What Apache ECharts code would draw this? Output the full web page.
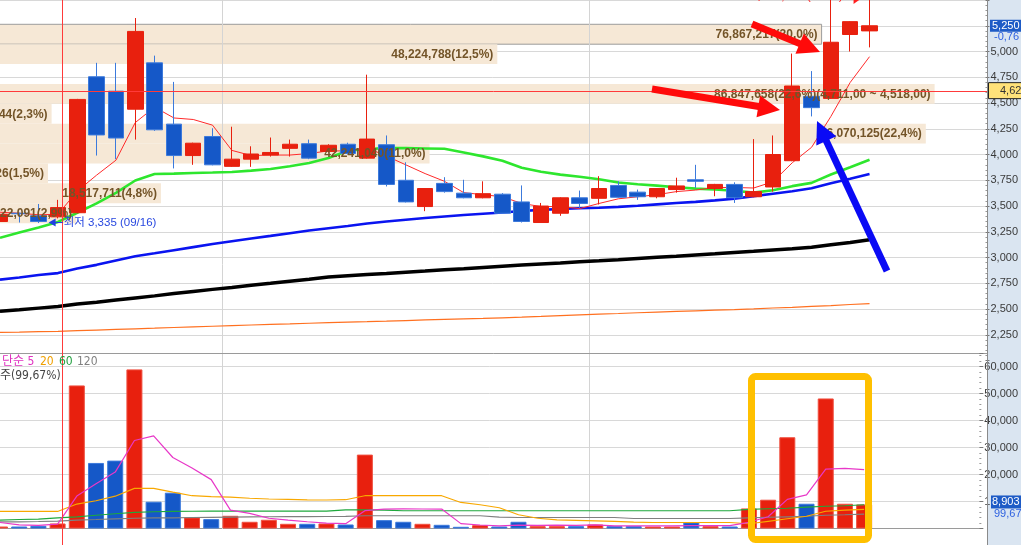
<!DOCTYPE html>
<html><head><meta charset="utf-8">
<script src="https://cdn.jsdelivr.net/npm/echarts@6/dist/echarts.min.js"></script>
<style>html,body{margin:0;padding:0;background:#fff;overflow:hidden}#c{width:1021px;height:545px}</style>
</head><body><div id="c"></div>
<script>
// ---------------- data ----------------
const dates = ['09/14','09/15','09/16','09/17','09/18','09/21','09/22','09/23','09/24','09/25','09/28','09/29',
 '10/05','10/06','10/07','10/08','10/12','10/13','10/14','10/15','10/16','10/19','10/20','10/21','10/22','10/23',
 '10/26','10/27','10/28','10/29','10/30','11/02','11/03','11/04','11/05','11/06','11/09','11/10','11/11','11/12',
 '11/13','11/16','11/17','11/18','11/19','11/20'];
const openP  = [3350,3430,3405,3395,3435,4755,4615,4440,4890,4295,3990,4175,3885,3955,3995,4060,4105,4030,4100,3965,4095,3750,3495,3720,3625,3580,3615,3540,3340,3430,3580,3575,3700,3635,3590,3660,3755,3670,3710,3590,3685,3940,4565,4545,5165,5200];
const highP  = [3430,3435,3520,3560,4540,4890,4890,5325,4960,4705,4115,4255,4270,4080,4165,4145,4145,4100,4115,4775,4185,3925,3675,3780,3755,3740,3625,3700,3530,3585,3650,3790,3740,3660,3675,3775,3900,3715,3730,4150,4185,4980,4810,5530,5295,5820];
const lowP   = [3345,3340,3335,3380,3430,3990,3955,4145,4230,3865,3900,3895,3880,3880,3980,3980,3955,4020,4000,3960,3690,3535,3450,3630,3575,3575,3425,3340,3340,3405,3480,3515,3580,3560,3575,3630,3675,3595,3530,3585,3640,3935,4370,4540,5000,5040];
const closeP = [3420,3425,3350,3485,4535,4190,4160,5195,4240,3990,4110,3900,3955,4005,4020,4100,3965,4090,4010,4150,3710,3540,3670,3640,3580,3620,3430,3350,3500,3580,3525,3670,3585,3590,3670,3695,3740,3710,3580,3640,4000,4665,4455,5090,5290,5250];
const ma5   = [3440,3430,3415,3420,3645,3800,3945,4310,4460,4355,4340,4285,4040,3990,3995,3995,4010,4035,4035,4065,3985,3900,3815,3740,3630,3610,3590,3525,3495,3495,3475,3525,3570,3590,3610,3640,3655,3680,3680,3675,3735,3920,4070,4370,4700,4950];
const ma20  = [3191,3242,3291,3346,3435,3526,3628,3748,3811,3815,3821,3825,3831,3844,3860,3886,3917,3966,4037,4054,4062,4062,4059,4056,4020,3982,3940,3871,3832,3805,3784,3760,3728,3712,3698,3683,3669,3661,3649,3630,3654,3693,3725,3806,3876,3950];
const ma60  = [2786,2806,2830,2849,2893,2929,2972,3012,3041,3071,3101,3131,3158,3185,3210,3236,3262,3285,3307,3331,3350,3367,3384,3399,3413,3425,3437,3452,3463,3471,3478,3484,3492,3503,3516,3529,3540,3555,3571,3596,3620,3643,3673,3722,3765,3811];
const ma120 = [2478,2493,2509,2525,2549,2566,2587,2608,2628,2650,2671,2691,2710,2731,2750,2770,2790,2811,2823,2835,2846,2858,2869,2881,2892,2904,2916,2927,2938,2947,2958,2968,2979,2991,3002,3013,3025,3037,3050,3061,3074,3086,3100,3124,3147,3172];
const ma240 = [2273,2276,2280,2284,2290,2296,2302,2308,2314,2321,2327,2333,2339,2345,2351,2356,2362,2368,2373,2377,2382,2388,2394,2399,2404,2409,2415,2421,2428,2436,2444,2451,2457,2464,2471,2477,2483,2489,2495,2502,2510,2517,2526,2534,2544,2553];
const volume = [740,740,1000,1860,52990,24280,25140,58930,9910,13260,4090,3480,4710,2490,3230,1740,1740,1860,1490,27370,3100,2490,1740,1370,630,1240,740,2490,870,870,870,1490,870,870,740,740,2230,870,740,7430,10660,33800,9170,48160,9170,8903];
const volMa5   = [2230,1370,1190,1630,12000,16600,20900,32600,34300,26300,22400,18100,6800,5600,3800,3130,2500,2000,1800,6600,7150,7250,7230,7200,1800,1300,1000,1280,1190,1240,1170,1320,990,990,970,940,1090,1090,1060,2300,4360,10800,12450,22000,22250,21800];
const volMa20  = [6310,6310,6310,6310,9060,10290,11960,14850,14850,13440,12140,11770,11590,11210,10920,10770,10620,10550,10660,12140,12140,12140,12140,12140,9650,8800,7690,5090,3790,3230,3040,2860,2670,2380,2230,2230,2230,2230,2230,1750,2670,3600,4530,6390,6830,7060];
const volMa60  = [3120,3340,3490,3970,4340,4900,5460,5940,6200,6310,6390,6420,6440,6460,6460,6460,6460,6460,6900,6900,6800,6570,6570,6570,6570,6570,6570,6570,6570,6570,6570,6570,6570,6570,6570,6570,6570,6570,6570,7060,7320,7500,7950,8240,8430,8800];
const volMa120 = [2490,2490,2600,2750,3120,3340,3600,3790,3900,3970,4080,4150,4230,4300,4350,4400,4420,4440,4460,4720,4720,4720,4720,4720,4720,4720,4230,4080,4080,4080,4080,4080,4080,3710,3710,3710,3710,3710,3710,3970,4160,4340,4530,4900,5090,5350];
// volume-at-price bins (millions of shares)
const profileHigh = [5264,5071,4685,4492,4299,4106,3913,3720,3527];
const profileLow  = [5071,4878,4492,4299,4106,3913,3720,3527,3334];
const profileVolM = [76.867,48.225,86.848,8.862,86.070,42.241,5.764,18.518,11.022];
const profileText = ['76,867,217(20,0%)','48,224,788(12,5%)','86,847,658(22,6%)(4,711,00 ~ 4,518,00)','8,862,444(2,3%)',
  '86,070,125(22,4%)','42,241,040(11,0%)','5,764,326(1,5%)','18,517,711(4,8%)','11,022,091(2,9%)'];
const priceMin = 2000, priceMax = 5500, priceStep = 250;
const volMin = 0, volMax = 65000, volStep = 10000;
const monthStarts = [12, 31];
const lowInfo  = {index: 2, value: 3335, text: '최저 3,335 (09/16)'};
const highInfo = {index: 45, value: 5820, text: '최고 5,820 (11/20)'};
const crossPrice = 4620, crossLabel = '4,620';
const lastChange = '-0,76', volRatio = '99,67', volLegend = '주(99,67%)';

// ---------------- chart ----------------
const FONT = '"DejaVu Sans Condensed","Noto Sans CJK KR",sans-serif';
const LFONT = '"Liberation Sans","Noto Sans CJK KR",sans-serif';
const RED = '#E8200E', BLUE = '#1558C8';
const cats = dates.concat(['x1','x2','x3','x4','x5','x6']);
const candleData = dates.map((d,i)=>[openP[i],closeP[i],lowP[i],highP[i]]);
const volData = volume.map((v,i)=>({value:v,itemStyle:{color: closeP[i]>=openP[i]?RED:BLUE, borderColor: closeP[i]>=openP[i]?'#F05040':'#3C7ADC', borderWidth:1}}));
const profData = profileVolM.map((v,i)=>[v, profileLow[i], profileHigh[i]]);

const mctx = document.createElement('canvas').getContext('2d');
const LABFONT = 'bold 12px ' + LFONT;
mctx.font = LABFONT;
const profW = profileText.map(t=>mctx.measureText(t).width);
const PAD = 4;
function profGeom(api, i){
  const p0 = api.coord([0, api.value(2)]), p1 = api.coord([api.value(0), api.value(1)]);
  const barStart = p0[0], barEnd = p1[0];
  const fits = (barEnd - barStart) >= profW[i] + 2*PAD;
  return {barStart, barEnd, fits, top:p0[1], bottom:p1[1],
    rectEnd: fits ? barEnd : Math.max(barEnd, barStart + profW[i] + 2*PAD),
    textX: fits ? barEnd - PAD : barStart + PAD + profW[i]};
}

const axisLabelFmt = (hide)=> (v)=> hide.includes(v) ? '' : v.toLocaleString('en-US');
const AX = 987;
const grids = [
  {left:0, top:-2.46, width:AX, height:363.02},
  {left:0, top:353, width:AX, height:175.5}
];
const labelAxis = (gi, mn, mx, st, hide)=>({type:'value', gridIndex:gi, min:mn, max:mx, interval:st, position:'right', z:10,
  axisLine:{show:false}, splitLine:{show:false}, axisTick:{show:true, length:4, lineStyle:{color:'#777'}},
  minorTick:{show:true, splitNumber:5, length:2, lineStyle:{color:'#999'}},
  axisLabel:{margin:5, color:'#3a3a3a', fontSize:11, fontFamily:LFONT, formatter:axisLabelFmt(hide)}});
const option = {
  animation:false,
  grid: grids,
  xAxis:[
    {type:'category', gridIndex:0, data:cats, boundaryGap:false, axisLine:{show:false}, axisTick:{show:false}, axisLabel:{show:false}, splitLine:{show:false}},
    {type:'value', gridIndex:0, min:4.303, max:91.34, show:false},
    {type:'category', gridIndex:1, data:cats, boundaryGap:false, axisLine:{show:true, lineStyle:{color:'#9a9a9a'}}, axisTick:{show:false}, axisLabel:{show:false}, splitLine:{show:false}}
  ],
  yAxis:[
    {type:'value', gridIndex:0, min:priceMin, max:priceMax, interval:priceStep, position:'right', axisLine:{show:false}, axisTick:{show:false}, axisLabel:{show:false},
      splitLine:{show:true, showMinLine:false, lineStyle:{color:'#d8d8d8'}}},
    labelAxis(0, priceMin, priceMax, priceStep, [2000,5500]),
    {type:'value', gridIndex:1, min:volMin, max:volMax, interval:volStep, position:'right', axisLine:{show:false}, axisTick:{show:false}, axisLabel:{show:false},
      splitLine:{show:true, lineStyle:{color:'#d8d8d8'}}},
    labelAxis(1, volMin, volMax, volStep, [0,65000])
  ],
  series:[
    {type:'custom', name:'profileBars', xAxisIndex:1, yAxisIndex:0, z:1, data:profData, encode:{x:0,y:[1,2]},
      renderItem:(params, api)=>{ const i=params.dataIndex; const g=profGeom(api,i);
        return {type:'rect', shape:{x:g.barStart, y:g.top, width:g.rectEnd-g.barStart, height:g.bottom-g.top},
          style:{fill:'#F6E8D6', stroke: i===0?'#9c9c9c':null, lineWidth:1}}; }},
    {type:'line', name:'MA240', data:ma240, xAxisIndex:0, yAxisIndex:0, z:2, symbol:'none', lineStyle:{color:'#FF7020', width:1.2}},
    {type:'line', name:'MA120', data:ma120, xAxisIndex:0, yAxisIndex:0, z:2, symbol:'none', lineStyle:{color:'#000', width:3.5}},
    {type:'line', name:'MA60', data:ma60, xAxisIndex:0, yAxisIndex:0, z:2, symbol:'none', lineStyle:{color:'#0A14F0', width:2.6}},
    {type:'line', name:'MA20', data:ma20, xAxisIndex:0, yAxisIndex:0, z:2, symbol:'none', lineStyle:{color:'#2EE62E', width:2.6}},
    {type:'line', name:'MA5', data:ma5, xAxisIndex:0, yAxisIndex:0, z:2, symbol:'none', lineStyle:{color:'#FF2A2A', width:1}},
    {type:'candlestick', name:'price', data:candleData, xAxisIndex:0, yAxisIndex:0, z:3, barWidth:16,
      itemStyle:{color:RED, color0:BLUE, borderColor:RED, borderColor0:'#3C7ADC', borderWidth:1}},
    {type:'custom', name:'profileLabels', xAxisIndex:1, yAxisIndex:0, z:4, data:profData, encode:{x:0,y:[1,2]},
      renderItem:(params, api)=>{ const i=params.dataIndex; const g=profGeom(api,i);
        return {type:'text', style:{text:profileText[i], x:g.textX, y:(g.top+g.bottom)/2+0.5, align:'right', verticalAlign:'middle',
          fill:'#735428', font:LABFONT}}; }},
    {type:'bar', name:'volume', data:volData, xAxisIndex:2, yAxisIndex:2, z:2, barWidth:16},
    {type:'line', name:'vMA120', data:volMa120, xAxisIndex:2, yAxisIndex:2, z:3, symbol:'none', lineStyle:{color:'#808080', width:1.2}},
    {type:'line', name:'vMA60', data:volMa60, xAxisIndex:2, yAxisIndex:2, z:3, symbol:'none', lineStyle:{color:'#1EA83C', width:1.2}},
    {type:'line', name:'vMA20', data:volMa20, xAxisIndex:2, yAxisIndex:2, z:3, symbol:'none', lineStyle:{color:'#F8A800', width:1.2}},
    {type:'line', name:'vMA5', data:volMa5, xAxisIndex:2, yAxisIndex:2, z:3, symbol:'none', lineStyle:{color:'#E838C8', width:1.2}}
  ]
};
const chart = echarts.init(document.getElementById('c'), null, {width:1021, height:545});
chart.setOption(option);

// ---------------- annotations ----------------
const P = (xi, v)=>chart.convertToPixel({xAxisIndex:0, yAxisIndex:0}, [xi, v]);
const yPrice = v=>chart.convertToPixel({yAxisIndex:0}, v);
const yVol = v=>chart.convertToPixel({yAxisIndex:2}, v);
function arrow(x1,y1,x2,y2,color,w,headL,headW,z){
  const dx=x2-x1, dy=y2-y1, L=Math.hypot(dx,dy), ux=dx/L, uy=dy/L, px=-uy, py=ux;
  const bx=x2-ux*headL, by=y2-uy*headL;
  return [
    {type:'line', z, shape:{x1,y1,x2:bx+ux*2,y2:by+uy*2}, style:{stroke:color, lineWidth:w}},
    {type:'polygon', z, shape:{points:[[x2,y2],[bx+px*headW,by+py*headW],[bx-px*headW,by-py*headW]]}, style:{fill:color}}
  ];
}
const lowPt = P(lowInfo.index, lowInfo.value);
const highPt = P(highInfo.index, highInfo.value);
const crossY = yPrice(crossPrice);
const lastY = yPrice(closeP[closeP.length-1]);
const lastVY = yVol(volume[volume.length-1]);
const g = [];
// month separators (between last day of a month and first of the next)
monthStarts.forEach(m=>{
  const x = Math.round((P(m-1, 3000)[0] + P(m, 3000)[0]) / 2) + 0.5;
  g.push({type:'line', z:1, shape:{x1:x,y1:0,x2:x,y2:529}, style:{stroke:'#d4d4d4', lineWidth:1}});
});
g.push({type:'line', z:6, shape:{x1:0,y1:353.5,x2:AX,y2:353.5}, style:{stroke:'#9a9a9a', lineWidth:1}});
g.push({type:'line', z:6, shape:{x1:62.5,y1:0,x2:62.5,y2:545}, style:{stroke:'#FF3A3A', lineWidth:1}});
g.push({type:'line', z:6, shape:{x1:0,y1:Math.round(crossY)+0.5,x2:AX,y2:Math.round(crossY)+0.5}, style:{stroke:'#FF3A3A', lineWidth:1}});
// low marker
g.push({type:'polygon', z:7, shape:{points:[[lowPt[0]+10,lowPt[1]-0.5],[lowPt[0]+17,lowPt[1]-4.5],[lowPt[0]+17,lowPt[1]+3.5]]}, style:{fill:'#2040E0'}});
g.push({type:'line', z:7, shape:{x1:lowPt[0]+16,y1:lowPt[1]-0.5,x2:lowPt[0]+24,y2:lowPt[1]-0.5}, style:{stroke:'#2040E0', lineWidth:1}});
g.push({type:'text', z:7, style:{text:lowInfo.text, x:lowPt[0]+25, y:lowPt[1]-0.5, verticalAlign:'middle', fill:'#2848E0', font:'11.5px '+LFONT}});
// high marker (mostly above the visible area)
g.push({type:'text', z:7, style:{text:highInfo.text, x:highPt[0]-27, y:-3, align:'right', verticalAlign:'middle', fill:'#FF2020', font:'11.5px '+LFONT}});
g.push({type:'polygon', z:7, shape:{points:[[highPt[0]-16,-6],[highPt[0]-9,-1],[highPt[0]-16,4]]}, style:{fill:'#FF2020'}});
// volume legend
const lg = [['단순 5',2,'#E030C0'],['20',40,'#F0A000'],['60',59,'#22A040'],['120',77,'#808080']];
lg.forEach(l=>g.push({type:'text', z:7, style:{text:l[0], x:l[1], y:362, verticalAlign:'middle', fill:l[2], font:'12px '+FONT}}));
g.push({type:'text', z:7, style:{text:volLegend, x:0, y:375.5, verticalAlign:'middle', fill:'#444', font:'12px '+FONT}});
// hand-drawn arrows and highlight box
arrow(652,89,780,110,'#FF0A0A',7,22,11,8).forEach(e=>g.push(e));
arrow(752,24,820,52,'#FF0A0A',7,22,11,8).forEach(e=>g.push(e));
arrow(887,271,817,121,'#0A0AF5',7,22,11,8).forEach(e=>g.push(e));
g.push({type:'rect', z:8, shape:{x:751.5,y:376.5,width:117,height:163,r:4}, style:{fill:null, stroke:'#FFC000', lineWidth:7}});
// right axis panel
g.push({type:'rect', z:4, shape:{x:AX,y:0,width:1021-AX,height:545}, style:{fill:'#DAE5F1'}});
g.push({type:'line', z:11, shape:{x1:AX+0.5,y1:0,x2:AX+0.5,y2:545}, style:{stroke:'#8a8a8a', lineWidth:1}});
// current price box
g.push({type:'rect', z:12, shape:{x:990,y:lastY-6,width:31,height:12}, style:{fill:'#1E5BC6'}});
g.push({type:'text', z:13, style:{text:closeP[closeP.length-1].toLocaleString('en-US'), x:992, y:lastY, verticalAlign:'middle', fill:'#fff', font:'11px '+LFONT}});
g.push({type:'text', z:13, style:{text:lastChange, x:994, y:lastY+11, verticalAlign:'middle', fill:'#2F62E0', font:'11px '+LFONT}});
// crosshair price box
g.push({type:'rect', z:12, shape:{x:988.5,y:crossY-8,width:33,height:16}, style:{fill:'#FFE27A', stroke:'#222', lineWidth:1}});
g.push({type:'text', z:13, style:{text:crossLabel, x:1000, y:crossY, verticalAlign:'middle', fill:'#333', font:'11px '+LFONT}});
// current volume box
g.push({type:'rect', z:12, shape:{x:991,y:lastVY-9,width:30,height:13}, style:{fill:'#1E5BC6'}});
g.push({type:'text', z:13, style:{text:volume[volume.length-1].toLocaleString('en-US'), x:992, y:lastVY-2.5, verticalAlign:'middle', fill:'#fff', font:'11px '+LFONT}});
g.push({type:'text', z:13, style:{text:volRatio, x:994, y:lastVY+10, verticalAlign:'middle', fill:'#2F62E0', font:'11px '+LFONT}});
chart.setOption({graphic:{elements:g}});
</script></body></html>
